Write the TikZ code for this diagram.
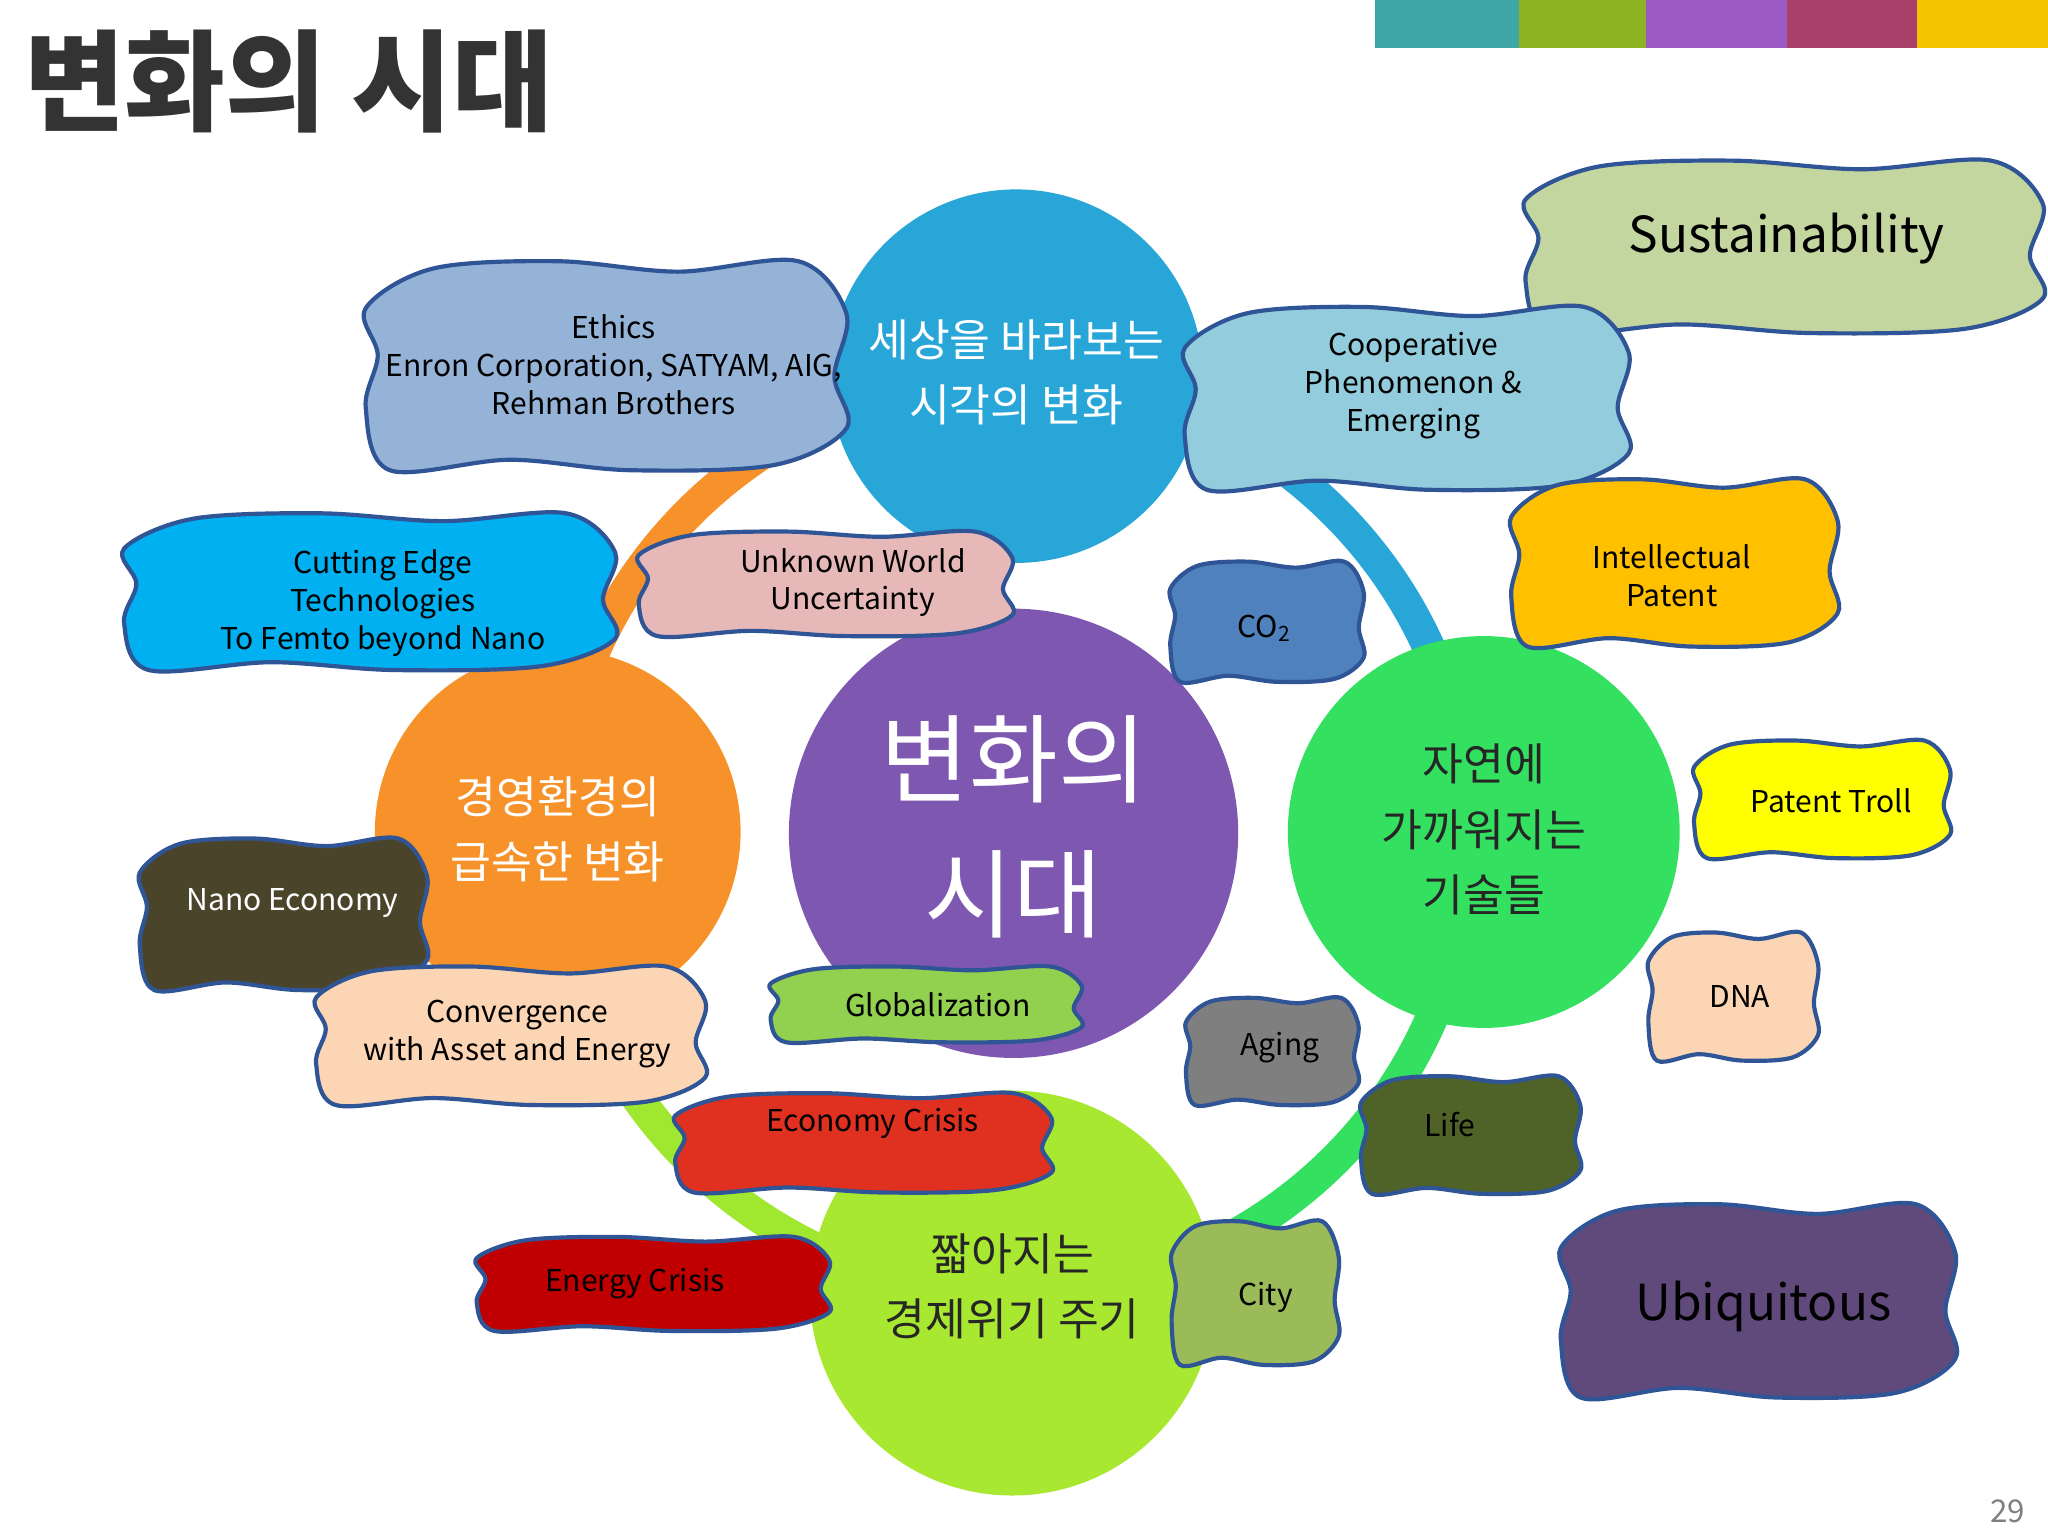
\documentclass[tikz,border=0pt]{standalone}
\usepackage{fontspec}
\setmainfont{Noto Sans CJK KR}
\begin{document}
\begin{tikzpicture}[x=0.5pt,y=-0.5pt,
  blobline/.style={draw={rgb,255:red,47;green,85;blue,151}, line width=1.6pt, line join=round},
  lbl/.style={align=center, font=\fontsize{11.5}{14.5}\selectfont, inner sep=0pt},
  big/.style={align=center, font=\fontsize{19}{22}\selectfont, inner sep=0pt},
  kor/.style={align=center, font=\fontsize{17}{25}\selectfont, inner sep=0pt},
  ball/.style={circle, draw=none, inner sep=0pt}]
\newcommand\blob[5]{\draw[blobline, fill=#5] plot[smooth cycle, tension=0.55] coordinates {
 ({#1-1.0*#3},{#2-0.55*#4}) ({#1-0.72*#3},{#2-0.93*#4}) ({#1-0.2*#3},{#2-1.0*#4}) ({#1+0.3*#3},{#2-0.9*#4})
 ({#1+0.8*#3},{#2-1.0*#4}) ({#1+1.0*#3},{#2-0.5*#4}) ({#1+0.95*#3},{#2+0.1*#4}) ({#1+1.0*#3},{#2+0.6*#4})
 ({#1+0.7*#3},{#2+0.95*#4}) ({#1+0.1*#3},{#2+1.0*#4}) ({#1-0.4*#3},{#2+0.9*#4}) ({#1-0.9*#3},{#2+1.0*#4})
 ({#1-1.0*#3},{#2+0.4*#4}) ({#1-0.95*#3},{#2-0.1*#4})};}
\useasboundingbox (0,0) rectangle (1568,1176);
\fill[white] (0,0) rectangle (1568,1176);
% top bar
\fill[color={rgb,255:red,63;green,166;blue,166}] (1053,0) rectangle (1163,37);
\fill[color={rgb,255:red,141;green,179;blue,34}] (1163,0) rectangle (1260,37);
\fill[color={rgb,255:red,155;green,89;blue,196}] (1260,0) rectangle (1368,37);
\fill[color={rgb,255:red,168;green,64;blue,106}] (1368,0) rectangle (1468,37);
\fill[color={rgb,255:red,245;green,196;blue,0}] (1468,0) rectangle (1568,37);
\node[anchor=west, inner sep=0pt, font=\fontsize{42}{46}\selectfont\bfseries, text=black!80] (title) at (18,62) {변화의 시대};
\node[text=black!50, font=\fontsize{12}{14}\selectfont] (pg) at (1537,1157) {29};
% ring
\coordinate (C) at (775,640);
\draw[line width=12.5pt, color={rgb,255:red,247;green,146;blue,42}] (C) ++(90:175pt) arc[start angle=90,end angle=180,radius=175pt];
\draw[line width=12.5pt, color={rgb,255:red,41;green,166;blue,216}] (C) ++(0:175pt) arc[start angle=0,end angle=90,radius=175pt];
\draw[line width=12.5pt, color={rgb,255:red,51;green,224;blue,96}] (C) ++(270:175pt) arc[start angle=270,end angle=360,radius=175pt];
\draw[line width=12.5pt, color={rgb,255:red,160;green,232;blue,48}] (C) ++(180:175pt) arc[start angle=180,end angle=270,radius=175pt];
% circles
\node[ball, minimum size=143pt, fill={rgb,255:red,41;green,166;blue,216}] (top) at (778,288) {};
\node[ball, minimum size=150pt, fill={rgb,255:red,51;green,224;blue,96}] (right) at (1136,637) {};
\node[ball, minimum size=155pt, fill={rgb,255:red,168;green,232;blue,48}] (bottom) at (775,990) {};
\node[ball, minimum size=140pt, fill={rgb,255:red,247;green,146;blue,42}] (left) at (427,637) {};
\node[ball, minimum size=172pt, fill={rgb,255:red,126;green,88;blue,176}] (center) at (776,638) {};
% blobs
\blob{1366}{189}{198}{66}{{rgb,255:red,196;green,214;blue,160}}
\blob{464}{280}{184}{80}{{rgb,255:red,149;green,179;blue,215}}
\blob{1077}{305}{170}{70}{{rgb,255:red,147;green,205;blue,221}}
\blob{1282}{431}{125}{64}{{rgb,255:red,255;green,192;blue,0}}
\blob{283}{453}{188}{60}{{rgb,255:red,0;green,176;blue,240}}
\blob{632}{447}{143}{40}{{rgb,255:red,230;green,185;blue,184}}
\blob{970}{476}{74}{46}{{rgb,255:red,79;green,129;blue,189}}
\blob{1395}{612}{98}{45}{{rgb,255:red,255;green,255;blue,0}}
\blob{217}{700}{110}{58}{{rgb,255:red,74;green,69;blue,42}}
\blob{1327}{763}{65}{49}{{rgb,255:red,252;green,213;blue,181}}
\blob{391}{793}{149}{53}{{rgb,255:red,252;green,213;blue,181}}
\blob{709}{769}{119}{29}{{rgb,255:red,146;green,208;blue,80}}
\blob{974}{805}{66}{41}{{rgb,255:red,127;green,127;blue,127}}
\blob{1126}{869}{84}{45}{{rgb,255:red,79;green,98;blue,40}}
\blob{661}{875}{144}{38}{{rgb,255:red,224;green,48;blue,32}}
\blob{500}{983}{135}{36}{{rgb,255:red,192;green,0;blue,0}}
\blob{961}{990}{64}{55}{{rgb,255:red,155;green,187;blue,89}}
\blob{1346}{996}{151}{74}{{rgb,255:red,96;green,74;blue,123}}
% circle texts
\node[kor, text=white] (tt) at (778,285) {세상을 바라보는\\시각의 변화};
\node[kor, text=black!85] (rt) at (1136,635) {자연에\\가까워지는\\기술들};
\node[kor, text=black!85] (bt) at (775,985) {짧아지는\\경제위기 주기};
\node[kor, text=white] (lt) at (427,635) {경영환경의\\급속한 변화};
\node[align=center, inner sep=0pt, text=white, font=\fontsize{37}{52}\selectfont] (ct) at (776,633) {변화의\\시대};
% blob texts
\node[big] (t1) at (1368,183) {Sustainability};
\node[lbl] (t2) at (470,279) {Ethics\\Enron Corporation, SATYAM, AIG,\\Rehman Brothers};
\node[lbl] (t3) at (1082,295) {Cooperative\\Phenomenon \&\\Emerging};
\node[lbl] (t4) at (1280,441) {Intellectual\\Patent};
\node[lbl] (t5) at (293,462) {Cutting Edge\\Technologies\\To Femto beyond Nano};
\node[lbl] (t6) at (653,446) {Unknown World\\Uncertainty};
\node[lbl] (t7) at (968,481) {CO\textsubscript{2}};
\node[lbl] (t8) at (1402,613) {Patent Troll};
\node[lbl, text=white] (t9) at (224,691) {Nano Economy};
\node[lbl] (t10) at (1332,763) {DNA};
\node[lbl] (t11) at (396,792) {Convergence\\with Asset and Energy};
\node[lbl] (t12) at (718,769) {Globalization};
\node[lbl] (t13) at (980,802) {Aging};
\node[lbl] (t14) at (1110,861) {Life};
\node[lbl] (t15) at (668,860) {Economy Crisis};
\node[lbl] (t16) at (486,983) {Energy Crisis};
\node[lbl] (t17) at (969,993) {City};
\node[big] (t18) at (1350,1000) {Ubiquitous};
\end{tikzpicture}
\end{document}
